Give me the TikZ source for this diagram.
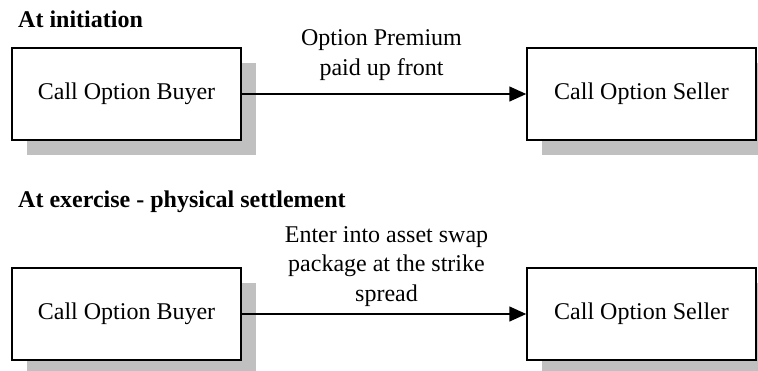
\documentclass[tikz,border=0pt]{standalone}
\usepackage{fontspec}
\setmainfont{Liberation Serif}
\usetikzlibrary{arrows.meta,shadows}
\definecolor{shadowgray}{HTML}{C0C0C0}
\tikzset{
  party/.style={draw=black, line width=1.5pt, fill=white, minimum width=229pt, minimum height=92pt,
    inner sep=0pt, font=\fontsize{24}{29.5}\selectfont,
    general shadow={fill=shadowgray, draw=none, shadow xshift=15pt, shadow yshift=-15pt}},
  heading/.style={anchor=base west, inner sep=0pt, font=\fontsize{24}{29.5}\selectfont\bfseries},
  lbl/.style={align=center, inner sep=0pt, anchor=south, font=\fontsize{24}{29.5}\selectfont},
  flow/.style={line width=1.5pt, -{Triangle[length=17pt,width=15pt]}}
}
\begin{document}
\begin{tikzpicture}[x=1pt,y=-1pt]
\useasboundingbox (0,0) rectangle (758,370);
\node[heading] (h1) at (18,27) {At initiation};
\node[heading] (h2) at (18,207) {At exercise - physical settlement};
\node[party] (b1) at (126.5,94) {Call Option Buyer};
\node[party] (s1) at (641.5,94) {Call Option Seller};
\node[party] (b2) at (126.5,314) {Call Option Buyer};
\node[party] (s2) at (641.5,314) {Call Option Seller};
\draw[flow] (b1) -- node[lbl, yshift=13pt, xshift=-2.5pt] (l1) {Option Premium\\paid up front} (s1);
\draw[flow] (b2) -- node[lbl, yshift=7pt, xshift=2.5pt] (l2) {Enter into asset swap\\package at the strike\\spread} (s2);
\end{tikzpicture}
\end{document}
